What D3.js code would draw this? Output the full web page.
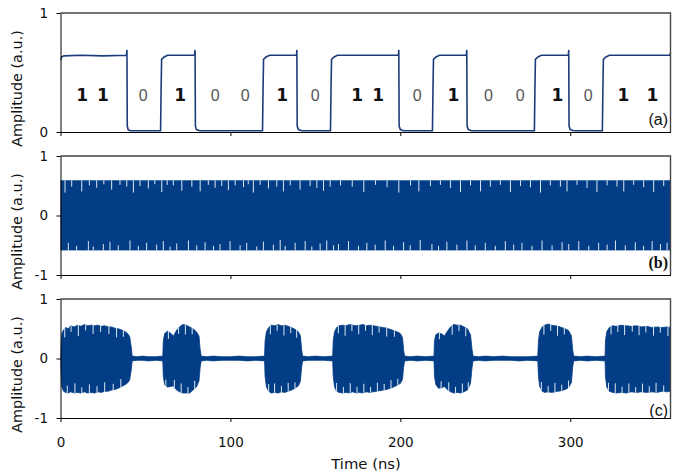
<!DOCTYPE html>
<html><head><meta charset="utf-8">
<script src="https://cdn.jsdelivr.net/npm/d3@7"></script>
<style>body{margin:0;background:#fff}</style>
</head><body>
<svg id="chart" width="675" height="476"></svg>
<script>
// ---------------- data ----------------
const xTicks = [0, 100, 200, 300];
const timeDomain = [0, 359];
const yTicksA = [0, 1];
const yTicksBC = [-1, 0, 1];

// (a) bit pattern and detected waveform [time ns, amplitude]
const bitLabels = ["1","1","0","1","0","0","1","0","1","1","0","1","0","0","1","0","1","1"];
const bitLabelTimes = [12.7,25,48.6,70.4,91,108.7,130.4,149.9,174.6,187,210,231.2,251.8,270.6,292.4,310.6,331.3,348.4];
const bitLabelLevel = 0.31;
const waveA = [
 [0,0.60],[0.6,0.63],[2,0.64],[12,0.645],[25,0.64],[38.8,0.645],[39.1,0.69],[39.3,0.05],[39.8,0.02],[41,0.01],[58.9,0.01],
 [59.2,0.35],[59.5,0.61],[61,0.63],[63,0.645],[78.9,0.645],[79.2,0.69],[79.4,0.05],[80,0.02],[82,0.01],[118.9,0.01],
 [119.2,0.35],[119.5,0.61],[121,0.63],[123,0.645],[138.9,0.645],[139.1,0.69],[139.3,0.05],[140,0.02],[142,0.01],[158.9,0.01],
 [159.2,0.35],[159.5,0.61],[161,0.63],[163,0.645],[198.9,0.645],[199.1,0.69],[199.3,0.05],[200,0.02],[202,0.01],[218.9,0.01],
 [219.2,0.35],[219.5,0.61],[221,0.63],[223,0.645],[238.9,0.645],[239.1,0.69],[239.3,0.05],[240,0.02],[242,0.01],[278.9,0.01],
 [279.2,0.35],[279.5,0.61],[281,0.63],[283,0.645],[298.9,0.645],[299.1,0.69],[299.3,0.05],[300,0.02],[302,0.01],[318.9,0.01],
 [319.2,0.35],[319.5,0.61],[321,0.63],[323,0.645],[358.8,0.645],[359,0.67]
];

// (b) carrier envelope [time, top, bottom] and notches [time, depth]
const envB = [[0,0.585,-0.58],[359,0.585,-0.58]];
const notchTopB = [
 [2.65,0.2],[6.6,0.1],[12.5,0.18],[17,0.08],[21.3,0.12],[25.5,0.06],[30.1,0.15],[35,0.07],[39,0.1],[42.9,0.2],[46.8,0.09],
 [51.7,0.13],[55.5,0.06],[59.6,0.19],[62.8,0.07],[66.4,0.08],[71.4,0.17],[77.3,0.1],[82.2,0.18],[87,0.07],[91,0.12],
 [94.9,0.09],[98.8,0.16],[102.8,0.08],[107.7,0.11],[110.5,0.06],[113.5,0.2],[117.5,0.07],[122.4,0.13],[127.3,0.1],
 [131.2,0.18],[135.2,0.08],[141,0.15],[146.9,0.09],[150.9,0.12],[154.8,0.17],[158.7,0.1],
 [164.8,0.08],[171.7,0.1],[178.5,0.19],[185.4,0.07],[192.2,0.11],[199.1,0.2],[206,0.08],[210.9,0.18],[217.7,0.09],
 [223.6,0.07],[229.5,0.12],[235.4,0.19],[241.3,0.08],[247.2,0.18],[253,0.1],[258.9,0.07],[264.8,0.19],[270.7,0.09],
 [276.6,0.11],[282.5,0.2],[288.3,0.08],[294.2,0.1],[298.1,0.18],[304,0.07],[309.9,0.12],[315.7,0.19],[321.7,0.08],
 [327.5,0.1],[331.5,0.18],[337.3,0.07],[343.2,0.11],[349.1,0.19],[355,0.09]
];
const notchBotB = [
 [4.6,0.12],[9.5,0.07],[16.4,0.15],[19.3,0.06],[25.2,0.1],[29.1,0.14],[34,0.08],[40.9,0.16],[45.8,0.07],[50.7,0.12],
 [56.6,0.09],[60.5,0.15],[64.5,0.06],[68.4,0.11],[75.3,0.16],[80.2,0.08],[85.1,0.13],[90,0.07],[93.9,0.1],[99.8,0.15],
 [105.7,0.08],[109.6,0.12],[115.5,0.06],[119.4,0.14],[125.3,0.09],[129.3,0.17],[132.2,0.07],[138.1,0.12],[144,0.15],
 [147.9,0.06],[152.8,0.11],[156.7,0.16],[160.7,0.08],
 [163.6,0.1],[169.5,0.15],[175.4,0.07],[180.3,0.12],[185.2,0.09],[191.1,0.16],[196,0.07],[201.9,0.13],[205.8,0.08],
 [211.7,0.17],[218.6,0.1],[222.5,0.07],[227.4,0.14],[233.3,0.09],[239.2,0.16],[244.1,0.08],[250,0.12],[255.9,0.07],
 [261.8,0.15],[266.7,0.09],[271.6,0.12],[277.5,0.07],[283.4,0.16],[289.3,0.08],[295.2,0.13],[299.1,0.1],[305,0.15],
 [310.9,0.07],[316.7,0.12],[321.7,0.09],[326.6,0.16],[332.4,0.08],[338.3,0.13],[343.2,0.07],[348.2,0.15],[353.1,0.1],[357,0.12]
];

// (c) modulated carrier envelope [time, top, bottom] and notches
const envC = [
 [0,0.03,-0.03],[0.3,0.2,-0.25],[0.8,0.42,-0.48],[1.8,0.48,-0.55],[3,0.52,-0.57],[4.5,0.50,-0.58],[6,0.55,-0.56],[8,0.53,-0.58],
 [10,0.56,-0.57],[12,0.54,-0.58],[14,0.57,-0.56],[16,0.55,-0.58],[18,0.56,-0.57],[20,0.55,-0.58],[22,0.56,-0.56],[24,0.54,-0.57],
 [26,0.55,-0.55],[28,0.53,-0.55],[30,0.53,-0.53],[32,0.51,-0.52],[34,0.50,-0.50],[36,0.48,-0.47],[38,0.45,-0.44],[39.5,0.42,-0.41],
 [40.7,0.37,-0.36],[41.6,0.2,-0.2],[42.2,0.04,-0.04],
 [45,0.03,-0.03],[48,0.04,-0.03],[52,0.03,-0.04],[56,0.03,-0.03],[60.2,0.04,-0.04],
 [60.5,0.3,-0.3],[61.3,0.42,-0.44],[63,0.46,-0.48],[65,0.42,-0.47],[66.5,0.38,-0.46],[68,0.46,-0.52],[70,0.53,-0.56],[72,0.57,-0.58],
 [74,0.56,-0.58],[76,0.53,-0.58],[78,0.5,-0.53],[80,0.45,-0.48],[81.5,0.38,-0.38],[82.2,0.15,-0.15],[82.8,0.04,-0.04],
 [86,0.03,-0.03],[90,0.04,-0.04],[95,0.03,-0.03],[100,0.03,-0.03],[105,0.04,-0.03],[110,0.03,-0.04],[115,0.03,-0.03],[120.1,0.04,-0.04],
 [120.4,0.3,-0.3],[121.2,0.45,-0.48],[122.5,0.52,-0.55],[124,0.56,-0.58],[126,0.55,-0.57],[128,0.57,-0.58],[130,0.55,-0.56],
 [132,0.56,-0.57],[134,0.54,-0.55],[136,0.52,-0.53],[138,0.49,-0.50],[140,0.45,-0.46],[141.2,0.38,-0.38],[141.9,0.15,-0.15],[142.5,0.04,-0.04],
 [146,0.03,-0.03],[150,0.04,-0.03],[155,0.03,-0.03],[160.2,0.04,-0.04],
 [160.5,0.3,-0.3],[161.3,0.45,-0.48],[162.5,0.52,-0.55],[164,0.55,-0.57],[166,0.56,-0.58],[168,0.55,-0.57],[170,0.57,-0.58],
 [172,0.56,-0.56],[174,0.55,-0.58],[176,0.56,-0.57],[178,0.57,-0.58],[180,0.55,-0.56],[182,0.56,-0.57],[184,0.55,-0.56],
 [186,0.54,-0.55],[188,0.53,-0.54],[190,0.52,-0.53],[192,0.51,-0.52],[194,0.49,-0.50],[196,0.47,-0.48],[198,0.45,-0.45],
 [200,0.42,-0.42],[201.3,0.35,-0.35],[201.9,0.15,-0.15],[202.5,0.04,-0.04],
 [206,0.03,-0.03],[210,0.04,-0.04],[215,0.03,-0.03],[219.8,0.04,-0.04],
 [220.1,0.3,-0.3],[220.9,0.4,-0.44],[222.5,0.43,-0.5],[224.5,0.41,-0.49],[226,0.38,-0.47],[227.5,0.45,-0.52],[229.5,0.53,-0.56],
 [231.5,0.57,-0.58],[233.5,0.56,-0.57],[235.5,0.56,-0.58],[237.5,0.53,-0.56],[239.5,0.5,-0.53],[241.3,0.4,-0.42],[242.2,0.15,-0.15],[242.8,0.04,-0.04],
 [246,0.03,-0.03],[250,0.04,-0.04],[255,0.03,-0.03],[260,0.04,-0.03],[265,0.03,-0.03],[270,0.03,-0.04],[275,0.03,-0.03],[280.9,0.04,-0.04],
 [281.3,0.3,-0.3],[282,0.45,-0.47],[283.5,0.53,-0.55],[285,0.56,-0.57],[287,0.58,-0.56],[289,0.56,-0.57],[291,0.55,-0.56],
 [293,0.54,-0.55],[295,0.52,-0.54],[297,0.5,-0.52],[299,0.47,-0.49],[300.7,0.38,-0.4],[301.4,0.15,-0.15],[302,0.04,-0.04],
 [306,0.03,-0.03],[310,0.04,-0.04],[315,0.03,-0.03],[320.5,0.04,-0.04],
 [320.7,0.3,-0.3],[321.5,0.45,-0.48],[323,0.52,-0.55],[325,0.55,-0.57],[327,0.54,-0.58],[330,0.56,-0.57],[333,0.55,-0.58],
 [336,0.54,-0.56],[339,0.55,-0.57],[342,0.53,-0.56],[345,0.54,-0.57],[348,0.52,-0.56],[351,0.53,-0.57],[354,0.52,-0.55],
 [357,0.53,-0.56],[359,0.52,-0.55]
];
const notchTopC = [
 [2.5,0.15],[6.2,0.1],[10.5,0.18],[14.8,0.09],[19.2,0.14],[23.6,0.1],[28.5,0.12],[33,0.15],[37,0.1],
 [63.5,0.12],[69.5,0.1],[73.5,0.16],[77.5,0.1],
 [123.5,0.14],[127.5,0.1],[131.5,0.17],[135.5,0.1],[139,0.12],
 [163.5,0.12],[167.5,0.17],[171.5,0.1],[175.5,0.15],[179.5,0.09],[183.5,0.16],[187.5,0.1],[192,0.14],[196.5,0.1],
 [223,0.1],[230.5,0.15],[234.5,0.1],[238.5,0.14],
 [284.5,0.15],[288.5,0.1],[292.5,0.16],[296.5,0.1],
 [324,0.13],[328,0.1],[332,0.16],[336.5,0.09],[340.5,0.15],[344.5,0.1],[349,0.14],[353,0.09],[357.5,0.15]
];
const notchBotC = [
 [4,0.12],[8.5,0.16],[12.5,0.09],[17,0.14],[21.5,0.1],[26,0.15],[31,0.1],[35.5,0.13],
 [62,0.1],[67,0.12],[71,0.15],[75,0.1],[79,0.13],
 [122.5,0.12],[126,0.15],[130,0.1],[134,0.14],[138,0.1],
 [162.5,0.14],[166.5,0.1],[170.5,0.16],[174.5,0.1],[178.5,0.15],[182.5,0.09],[186.5,0.14],[190.5,0.1],[194.5,0.13],[198.5,0.1],
 [224,0.11],[228.5,0.14],[232.5,0.1],[236.5,0.15],[240,0.1],
 [283,0.13],[287,0.1],[291,0.15],[295,0.1],[299,0.12],
 [322.5,0.12],[326.5,0.16],[330.5,0.1],[334.5,0.15],[338.5,0.09],[342.5,0.14],[346.5,0.1],[350.5,0.16],[355,0.1]
];

const panelLabels = ["(a)", "(b)", "(c)"];

// ---------------- drawing ----------------
const svg = d3.select("#chart");
const FONT = "'DejaVu Sans', Verdana, sans-serif";
const SIG = "#033d86";
const NOTCH = "#dbe7f4";

const x = d3.scaleLinear().domain(timeDomain).range([60.5, 670.5]);
const panels = [
  {top: 13, bottom: 132, domain: [0, 1], ticks: yTicksA},
  {top: 156, bottom: 275, domain: [-1, 1], ticks: yTicksBC},
  {top: 299, bottom: 418, domain: [-1, 1], ticks: yTicksBC}
];
panels.forEach(p => { p.y = d3.scaleLinear().domain(p.domain).range([p.bottom, p.top]); });

const defs = svg.append("defs");
panels.forEach((p, i) => {
  defs.append("clipPath").attr("id", "clip" + i).append("rect")
    .attr("x", x.range()[0]).attr("y", p.top).attr("width", x.range()[1] - x.range()[0]).attr("height", p.bottom - p.top);
});

function envAt(env, t, k) {
  const i = d3.bisector(d => d[0]).right(env, t);
  if (i <= 0) return env[0][k];
  if (i >= env.length) return env[env.length - 1][k];
  const a = env[i - 1], b = env[i];
  return a[k] + (b[k] - a[k]) * (t - a[0]) / (b[0] - a[0]);
}

// panel (a)
{
  const p = panels[0];
  const g = svg.append("g").attr("clip-path", "url(#clip0)");
  g.append("path").datum(waveA)
    .attr("d", d3.line().x(d => x(d[0])).y(d => p.y(d[1])))
    .attr("fill", "none").attr("stroke", "#1a3c7c").attr("stroke-width", 1.6);
  svg.append("g").selectAll("text").data(bitLabels).join("text")
    .attr("x", (d, i) => x(bitLabelTimes[i]))
    .attr("y", p.y(bitLabelLevel))
    .attr("dy", "0.36em")
    .attr("text-anchor", "middle")
    .attr("font-family", d => d === "1" ? FONT : "'Liberation Sans', Arial, sans-serif")
    .attr("font-weight", d => d === "1" ? "bold" : "normal")
    .attr("font-size", d => d === "1" ? 17 : 16)
    .attr("fill", d => d === "1" ? "#111" : "#555")
    .text(d => d);
}

// panels (b) and (c)
function drawCarrier(idx, env, notchTop, notchBot) {
  const p = panels[idx];
  const g = svg.append("g").attr("clip-path", `url(#clip${idx})`);
  g.append("path").datum(env)
    .attr("d", d3.area().x(d => x(d[0])).y0(d => p.y(d[2])).y1(d => p.y(d[1])))
    .attr("fill", SIG).attr("stroke", SIG).attr("stroke-width", 0.8);
  g.append("g").selectAll("line").data(notchTop).join("line")
    .attr("x1", d => x(d[0])).attr("x2", d => x(d[0]))
    .attr("y1", d => p.y(envAt(env, d[0], 1)) - 0.5)
    .attr("y2", d => p.y(envAt(env, d[0], 1) - d[1]))
    .attr("stroke", NOTCH).attr("stroke-width", 1);
  g.append("g").selectAll("line").data(notchBot).join("line")
    .attr("x1", d => x(d[0])).attr("x2", d => x(d[0]))
    .attr("y1", d => p.y(envAt(env, d[0], 2)) + 0.5)
    .attr("y2", d => p.y(envAt(env, d[0], 2) + d[1]))
    .attr("stroke", NOTCH).attr("stroke-width", 1);
}
drawCarrier(1, envB, notchTopB, notchBotB);
drawCarrier(2, envC, notchTopC, notchBotC);

// frames and axes
panels.forEach((p, i) => {
  // top & right border
  svg.append("path")
    .attr("d", `M${x.range()[0]},${p.top}H${x.range()[1]}V${p.bottom}`)
    .attr("fill", "none").attr("stroke", "#444").attr("stroke-width", 1.4);

  const ya = svg.append("g").attr("transform", `translate(${x.range()[0]},0)`)
    .call(d3.axisLeft(p.y).tickValues(p.ticks).tickSize(4).tickSizeOuter(0).tickPadding(8.5).tickFormat(d => String(d)));
  ya.attr("font-family", FONT).attr("font-size", 13.5);
  ya.selectAll("path,line").attr("stroke", "#000");
  ya.selectAll("text").attr("fill", "#111");

  const xa = svg.append("g").attr("transform", `translate(0,${p.bottom})`)
    .call(d3.axisBottom(x).tickValues(xTicks).tickSize(4).tickSizeOuter(0).tickPadding(15)
      .tickFormat(i === 2 ? (d => String(d)) : () => ""));
  xa.attr("font-family", FONT).attr("font-size", 13.5);
  xa.selectAll("path,line").attr("stroke", "#000");
  xa.selectAll("text").attr("fill", "#111");

  svg.append("text")
    .attr("transform", `translate(17,${(p.top + p.bottom) / 2 + 16}) rotate(-90)`)
    .attr("text-anchor", "middle").attr("dy", "0.35em")
    .attr("font-family", FONT).attr("font-size", 14.4).attr("fill", "#111")
    .text("Amplitude (a.u.)");
});

// panel labels
const labelFonts = ["'Liberation Sans', Arial, sans-serif", "'Liberation Serif', 'Times New Roman', serif", "'Liberation Sans', Arial, sans-serif"];
const labelBase = [125, 268, 416];
panelLabels.forEach((t, i) => {
  svg.append("text").attr("x", 668).attr("y", labelBase[i])
    .attr("text-anchor", "end").attr("font-family", labelFonts[i])
    .attr("font-weight", i === 1 ? "bold" : "normal")
    .attr("font-size", 16).attr("fill", "#111").text(t);
});

svg.append("text").attr("x", 366).attr("y", 469).attr("text-anchor", "middle")
  .attr("font-family", FONT).attr("font-size", 14.8).attr("fill", "#111").text("Time (ns)");
</script>
</body></html>
